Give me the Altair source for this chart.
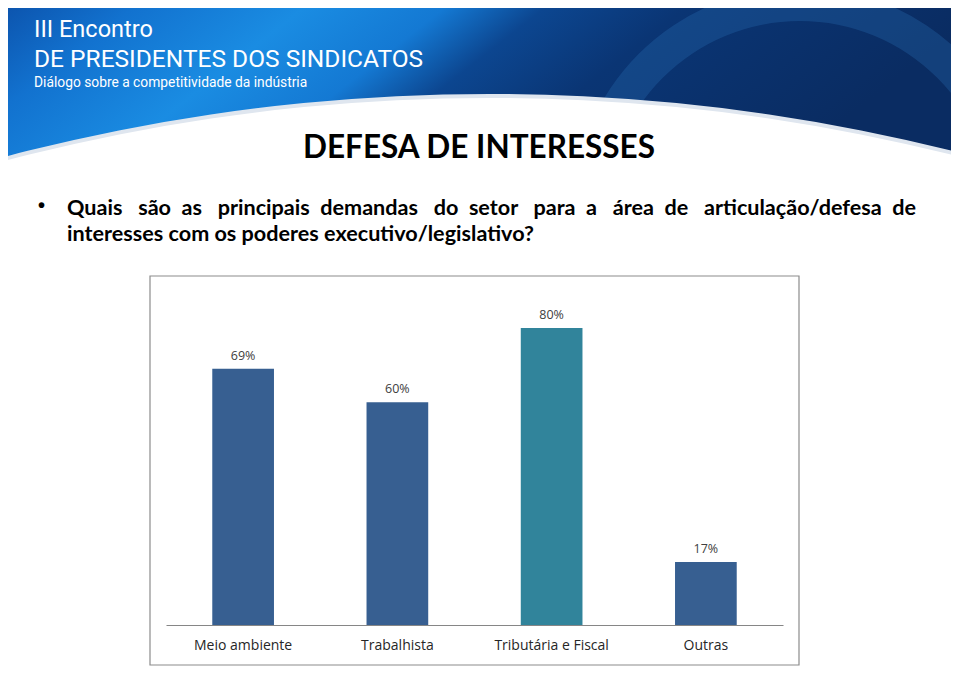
import math
import altair as alt
import pandas as pd

# ---- data ----
categories = ["Meio ambiente", "Trabalhista", "Tributária e Fiscal", "Outras"]
values = [69, 60, 80, 17]
bar_colors = ["#375f91", "#375f91", "#31849b", "#375f91"]

header_line1 = "III Encontro"
header_line2 = "DE PRESIDENTES DOS SINDICATOS"
header_line3 = "Diálogo sobre a competitividade da indústria"
slide_title = "DEFESA DE INTERESSES"
question_words = ["Quais", "são", "as", "principais", "demandas", "do", "setor", "para", "a", "área", "de",
                  "articulação/defesa", "de"]
question_line2 = "interesses com os poderes executivo/legislativo?"

df = pd.DataFrame({
    "categoria": categories,
    "valor": values,
    "cor": bar_colors,
    "rotulo": [f"{v}%" for v in values],
})

# layout helpers (plot area origin at page (166, 276))
OX, OY = 166, 276
def px(x):
    return x - OX
def py(y):
    return y - OY

one = alt.Data(values=[{"k": 1}])

gradient = alt.LinearGradient(
    gradient="linear",
    x1=0, y1=0, x2=1, y2=0.25,
    stops=[
        alt.GradientStop(color="#0b4fa8", offset=0.0),
        alt.GradientStop(color="#1272cf", offset=0.15),
        alt.GradientStop(color="#1a8ce2", offset=0.32),
        alt.GradientStop(color="#1479d3", offset=0.46),
        alt.GradientStop(color="#0c4690", offset=0.56),
        alt.GradientStop(color="#0a3574", offset=0.7),
        alt.GradientStop(color="#0a2c62", offset=1.0),
    ],
)

banner = alt.Chart(one).mark_rect(color=gradient).encode(
    x=alt.value(px(5)), x2=alt.value(px(951)),
    y=alt.value(py(-10)), y2=alt.value(py(175)),
)

ring = alt.Chart(one).mark_arc(
    theta=0, theta2=2 * math.pi, radius=228, radius2=194, color="#2a6fb5", opacity=0.3
).encode(x=alt.value(px(800)), y=alt.value(py(215)))

glow = alt.Chart(one).mark_arc(
    theta=0, theta2=2 * math.pi, radius=1902, color="#dfe6ef"
).encode(x=alt.value(px(490)), y=alt.value(py(96 + 1900)))

white_cut = alt.Chart(one).mark_arc(
    theta=0, theta2=2 * math.pi, radius=1900, color="white"
).encode(x=alt.value(px(490)), y=alt.value(py(98 + 1900)))

def txt(text, x, y, size, font, weight="normal", color="black", align="left"):
    return alt.Chart(one).mark_text(
        text=text, align=align, baseline="alphabetic", font=font,
        fontSize=size, fontWeight=weight, color=color,
    ).encode(x=alt.value(px(x)), y=alt.value(py(y)))

HEAD = "Roboto"
h1 = txt(header_line1, 34, 37, 23.5, HEAD, color="white")
h2 = txt(header_line2, 34, 67, 24.5, HEAD, color="white")
h3 = txt(header_line3, 34, 87, 13.8, HEAD, color="white")

BODY = "Lato"
title = txt(slide_title, 479, 158, 31.5, BODY, weight="bold", align="center")
bullet = txt("•", 38, 212, 20, "Liberation Sans", weight="bold")
NB = "\u00a0"
# justified first line: alternate two- and three-space gaps
line1 = question_words[0]
for i, w in enumerate(question_words[1:]):
    gap = " " + NB + (NB if i % 2 == 0 else "")
    line1 += gap + w
q1 = txt(line1, 67, 215, 21.6, BODY, weight="bold")
q2 = txt(question_line2, 67, 241, 21.6, BODY, weight="bold")

box = alt.Chart(one).mark_rect(fillOpacity=0, stroke="#8c8c8c", strokeWidth=1.2).encode(
    x=alt.value(px(150)), x2=alt.value(px(799)),
    y=alt.value(py(276)), y2=alt.value(py(665)),
)

xenc = alt.X(
    "categoria:N", sort=categories,
    scale=alt.Scale(paddingInner=0.6, paddingOuter=0.3),
    axis=alt.Axis(title=None, labelAngle=0, ticks=False, domainColor="#868686",
                  domainWidth=1.2, labelFontSize=14, labelPadding=13,
                  labelFont="Open Sans", labelColor="#262626", zindex=1),
)
yenc = alt.Y("valor:Q", scale=alt.Scale(domain=[0, 94]), axis=None)

bars = alt.Chart(df).mark_bar().encode(
    x=xenc, y=yenc, color=alt.Color("cor:N", scale=None)
)
labels = alt.Chart(df).mark_text(
    baseline="alphabetic", dy=-9, font="Open Sans", fontSize=12.5, color="#404040"
).encode(x=xenc, y=yenc, text="rotulo:N")

chart = alt.layer(
    banner, ring, glow, white_cut, h1, h2, h3, title, bullet, q1, q2, box, bars, labels
).properties(
    width=617, height=349,
    padding={"left": 158, "top": 268, "right": 168, "bottom": 55},
    autosize=alt.AutoSizeParams(type="none"),
    background="white",
).configure_view(stroke=None)

chart.save("out.html", embed_options={"renderer": "svg", "actions": False})
